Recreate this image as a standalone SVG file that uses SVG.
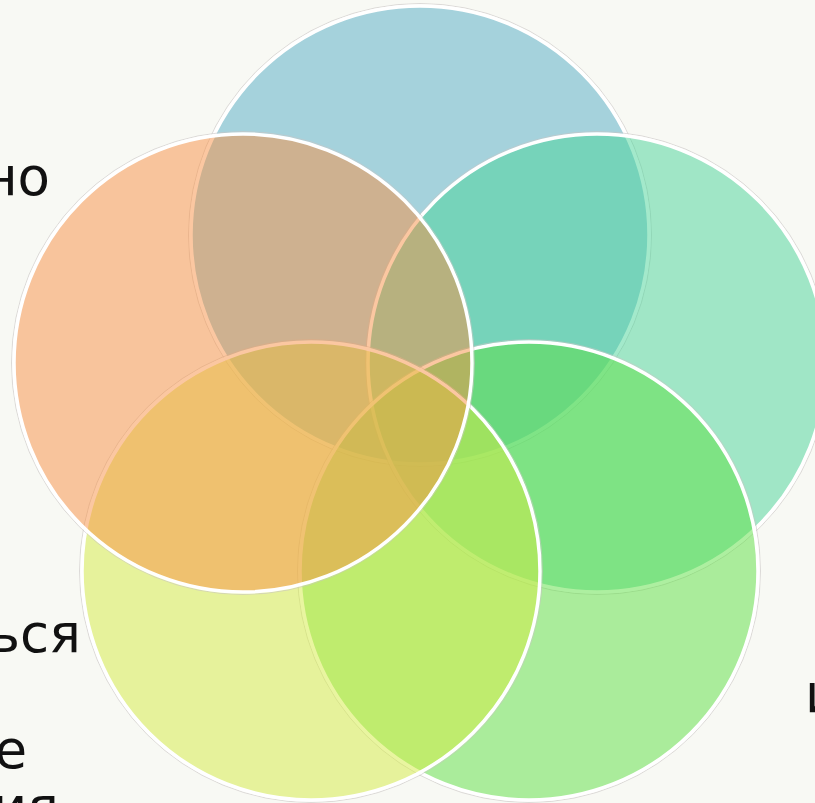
<svg xmlns="http://www.w3.org/2000/svg" width="815" height="803" viewBox="0 0 815 803">
  <style>
    .fill { fill-opacity: 0.5; stroke: none; }
    .edge { fill: none; stroke: #ffffff; stroke-width: 3.5; }
    .halo { fill: none; stroke: #c9c4c4; stroke-width: 1; stroke-opacity: 0.6; }
    .lbl { font-family: "DejaVu Sans", "Noto Sans", sans-serif; font-size: 53px; fill: #111111; }
  </style>
  <rect x="0" y="0" width="815" height="803" fill="#f8f9f4"/>

  <g id="labels">
    <text class="lbl" x="50" y="195" text-anchor="end">но</text>
    <text class="lbl" x="81" y="652" text-anchor="end">ься</text>
    <text class="lbl" x="27" y="768" text-anchor="end">е</text>
    <text class="lbl" x="59" y="825" text-anchor="end">ия</text>
    <text class="lbl" x="805" y="712">и</text>
  </g>

  <g id="circle-blue">
    <circle class="halo" cx="420" cy="235" r="231.5"/>
    <circle class="fill" cx="420" cy="235" r="229" fill="#52abc4"/>
    <circle class="edge" cx="420" cy="235" r="229"/>
  </g>
  <g id="circle-teal">
    <circle class="halo" cx="597" cy="363" r="231.5"/>
    <circle class="fill" cx="597" cy="363" r="229" fill="#48d398"/>
    <circle class="edge" cx="597" cy="363" r="229"/>
  </g>
  <g id="circle-green">
    <circle class="halo" cx="529" cy="571" r="231.5"/>
    <circle class="fill" cx="529" cy="571" r="229" fill="#5cdf42"/>
    <circle class="edge" cx="529" cy="571" r="229"/>
  </g>
  <g id="circle-lime">
    <circle class="halo" cx="311" cy="571" r="231.5"/>
    <circle class="fill" cx="311" cy="571" r="229" fill="#d4eb42"/>
    <circle class="edge" cx="311" cy="571" r="229"/>
  </g>
  <g id="circle-orange">
    <circle class="halo" cx="243" cy="363" r="231.5"/>
    <circle class="fill" cx="243" cy="363" r="229" fill="#f88f44"/>
    <circle class="edge" cx="243" cy="363" r="229"/>
  </g>
  <g id="connectors"/>
</svg>
